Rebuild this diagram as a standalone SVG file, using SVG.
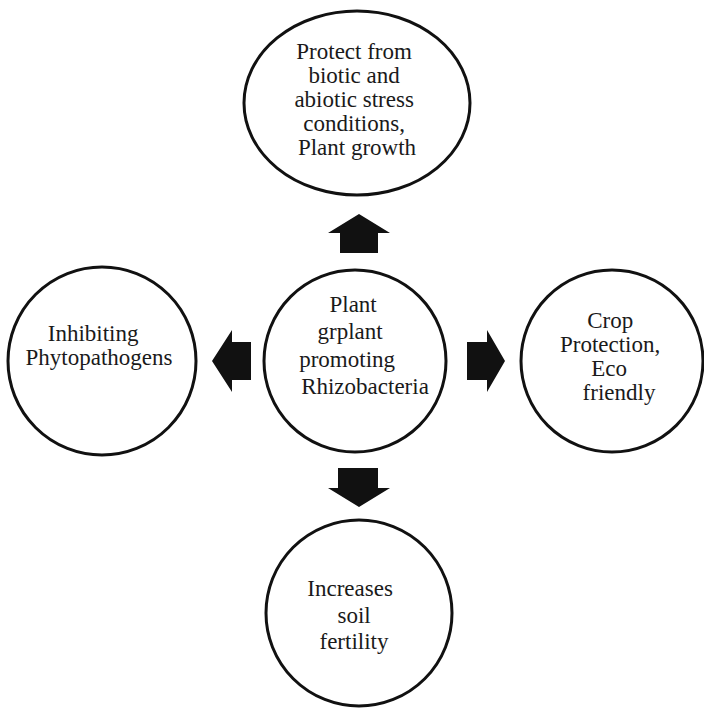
<svg xmlns="http://www.w3.org/2000/svg" width="704" height="708" viewBox="0 0 704 708">
  <style>
    .node { fill: #ffffff; stroke: #111111; stroke-width: 3; }
    .label { font-family: "Liberation Serif", "Times New Roman", serif; font-size: 23px; fill: #1a1a1a; text-anchor: middle; }
    .arrow { fill: #111111; stroke: none; }
  </style>
  <rect width="704" height="708" fill="#ffffff"/>

  <g id="connectors">
    <!-- up -->
    <polygon class="arrow" points="359,214 390,233 378,233 378,253 340,253 340,233 328,233"/>
    <!-- right -->
    <polygon class="arrow" points="505,361 487,330 487,342 467,342 467,380 487,380 487,392"/>
    <!-- left -->
    <polygon class="arrow" points="212,361 232,330 232,342 251,342 251,380 232,380 232,392"/>
    <!-- down -->
    <polygon class="arrow" points="359,507 390,488 378,488 378,468 338,468 338,488 328,488"/>
  </g>

  <g id="node-top">
    <ellipse class="node" cx="357" cy="103" rx="113" ry="92"/>
    <text class="label">
      <tspan x="357" y="59">Protect from</tspan>
      <tspan x="357" y="83">biotic and</tspan>
      <tspan x="357" y="107">abiotic stress</tspan>
      <tspan x="357" y="131">conditions,</tspan>
      <tspan x="357" y="155">Plant growth</tspan>
    </text>
  </g>

  <g id="node-center">
    <circle class="node" cx="355" cy="361" r="91"/>
    <text class="label">
      <tspan x="356" y="312">Plant</tspan>
      <tspan x="353" y="339">grplant</tspan>
      <tspan x="350" y="367">promoting</tspan>
      <tspan x="365" y="394">Rhizobacteria</tspan>
    </text>
  </g>

  <g id="node-left">
    <circle class="node" cx="102" cy="361" r="94"/>
    <text class="label">
      <tspan x="96" y="341">Inhibiting</tspan>
      <tspan x="99" y="365">Phytopathogens</tspan>
    </text>
  </g>

  <g id="node-right">
    <circle class="node" cx="612" cy="361" r="91"/>
    <text class="label">
      <tspan x="613" y="328">Crop</tspan>
      <tspan x="613" y="352">Protection,</tspan>
      <tspan x="612" y="376">Eco</tspan>
      <tspan x="619" y="400">friendly</tspan>
    </text>
  </g>

  <g id="node-bottom">
    <circle class="node" cx="359" cy="613" r="93"/>
    <text class="label">
      <tspan x="353" y="596">Increases</tspan>
      <tspan x="357" y="623">soil</tspan>
      <tspan x="354" y="649">fertility</tspan>
    </text>
  </g>
</svg>
